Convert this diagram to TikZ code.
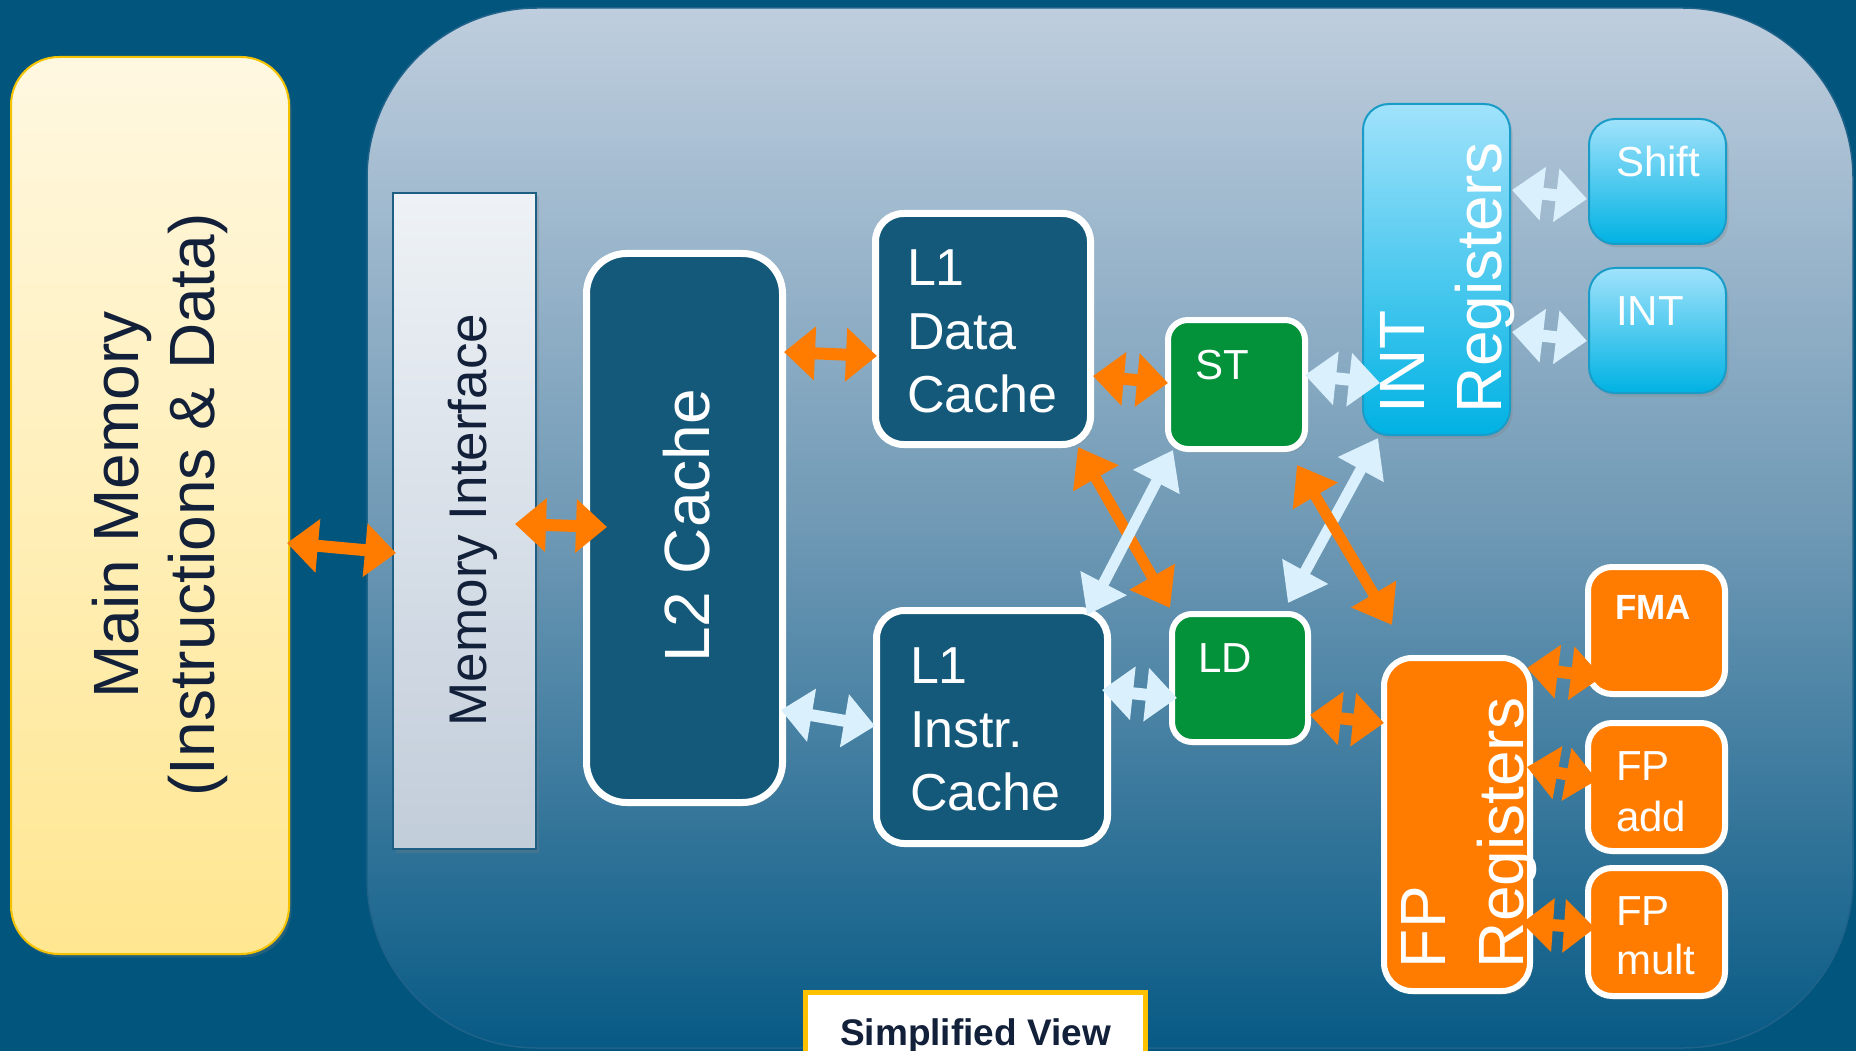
\documentclass[tikz,border=0pt]{standalone}
\usepackage{fontspec}
\setmainfont{Liberation Sans}
\usetikzlibrary{arrows.meta,shadows}
\definecolor{bgblue}{HTML}{02557C}
\definecolor{regtop}{HTML}{BFCEDE}
\definecolor{regmid}{HTML}{6F99B5}
\definecolor{regbot}{HTML}{075A85}
\definecolor{regedge}{HTML}{1F628A}
\definecolor{memtop}{HTML}{FFF8E1}
\definecolor{membot}{HTML}{FFE690}
\definecolor{memedge}{HTML}{F5C200}
\definecolor{iftop}{HTML}{EEF2F6}
\definecolor{ifbot}{HTML}{C2CDDA}
\definecolor{ifedge}{HTML}{1D5E82}
\definecolor{cachefill}{HTML}{14597A}
\definecolor{unitgreen}{HTML}{03913A}
\definecolor{intop}{HTML}{A0E2FB}
\definecolor{inbot}{HTML}{00B2E3}
\definecolor{inedge}{HTML}{1A9CC8}
\definecolor{fporange}{HTML}{FF7C00}
\definecolor{palearrow}{HTML}{DAF0FC}
\definecolor{navytext}{HTML}{13203A}
\definecolor{goldedge}{HTML}{FFC000}
\begin{document}
\begin{tikzpicture}[x=1pt,y=-1pt,
  txt/.style={inner sep=0pt,outer sep=0pt},
  wtxt/.style={txt,text=white},
  softshadow/.style={drop shadow={opacity=0.28,shadow xshift=2.5pt,shadow yshift=-3.5pt}},
  cachebox/.style={draw=white,line width=7pt,fill=cachefill,rounded corners=28pt,softshadow},
  greenbox/.style={draw=white,line width=6pt,fill=unitgreen,rounded corners=20pt,softshadow},
  orangebox/.style={draw=white,line width=6pt,fill=fporange,rounded corners=24pt,softshadow},
  bluebox/.style={draw=inedge,line width=2pt,top color=intop,bottom color=inbot,rounded corners=26pt,softshadow},
  oarr/.style={draw=fporange,line width=12pt,{Triangle[length=31pt,width=52pt]}-{Triangle[length=31pt,width=52pt]}},
  parr/.style={draw=palearrow,line width=12pt,{Triangle[length=31pt,width=52pt]}-{Triangle[length=31pt,width=52pt]}},
  odiag/.style={draw=fporange,line width=11pt,{Triangle[length=36pt,width=50pt]}-{Triangle[length=36pt,width=50pt]}},
  pdiag/.style={draw=palearrow,line width=11pt,{Triangle[length=36pt,width=50pt]}-{Triangle[length=36pt,width=50pt]}},
]
\useasboundingbox (0,0) rectangle (1856,1051);
\fill[bgblue] (0,0) rectangle (1856,1051);

% core region
\node[draw=regedge,line width=1.5pt,top color=regtop,bottom color=regbot,middle color=regmid,
      rounded corners=170pt,minimum width=1486pt,minimum height=1040pt] (core) at (1110,528) {};

% main memory
\node[draw=memedge,line width=2pt,top color=memtop,bottom color=membot,rounded corners=48pt,
      minimum width=278pt,minimum height=897pt,softshadow] (mainmem) at (150,505.5) {};
% memory interface
\node[draw=ifedge,line width=2pt,top color=iftop,bottom color=ifbot,
      minimum width=143pt,minimum height=656pt,softshadow] (memif) at (464.5,521) {};
% caches
\node[cachebox,rounded corners=40pt,minimum width=196pt,minimum height=549pt] (l2) at (684.5,528) {};
\node[cachebox,minimum width=215pt,minimum height=231pt] (l1d) at (983,329) {};
\node[cachebox,minimum width=231pt,minimum height=233pt] (l1i) at (992,727) {};
% load / store
\node[greenbox,minimum width=137pt,minimum height=129pt] (st) at (1236.5,384.5) {};
\node[greenbox,minimum width=136pt,minimum height=128pt] (ld) at (1240,678) {};
% integer side
\node[bluebox,minimum width=147pt,minimum height=331pt] (intreg) at (1436.5,269.5) {};
\node[bluebox,minimum width=137pt,minimum height=125pt] (shift) at (1657.5,181.5) {};
\node[bluebox,minimum width=137pt,minimum height=125pt] (int) at (1657.5,330.5) {};
% floating point side
\node[orangebox,rounded corners=28pt,minimum width=146pt,minimum height=333pt] (fpreg) at (1457,824.5) {};
\node[orangebox,minimum width=137pt,minimum height=127pt] (fma) at (1656.5,630.5) {};
\node[orangebox,minimum width=137pt,minimum height=128pt] (fpadd) at (1656.5,787) {};
\node[orangebox,minimum width=137pt,minimum height=128pt] (fpmult) at (1656.5,932) {};

% connectors
\draw[oarr] ([shift={(-3,487)}]mainmem.north east) -- ([shift={(4,361)}]memif.north west);
\draw[oarr] ([shift={(-22,332)}]memif.north east) -- ([shift={(24,277)}]l2.north west);
\draw[oarr] ([shift={(-2,102)}]l2.north east) -- ([shift={(5,146)}]l1d.north west);
\draw[parr] ([shift={(-5,460)}]l2.north east) -- ([shift={(2,119)}]l1i.north west);
\draw[oarr] ([shift={(-1,166)}]l1d.north east) -- ([shift={(3,66)}]st.north west);
\draw[parr] ([shift={(-3,58)}]st.north east) -- ([shift={(18,280)}]intreg.north west);
\draw[parr] ([shift={(1,87)}]intreg.north east) -- ([shift={(-1,81)}]shift.north west);
\draw[parr] ([shift={(1,229)}]intreg.north east) -- ([shift={(-1,74)}]int.north west);
\draw[parr] ([shift={(-9,83)}]l1i.north east) -- ([shift={(8,87)}]ld.north west);
\draw[oarr] ([shift={(-1,104)}]ld.north east) -- ([shift={(3,68)}]fpreg.north west);
\draw[oarr] ([shift={(-6,13)}]fpreg.north east) -- ([shift={(17,113)}]fma.north west);
\draw[oarr] ([shift={(-6,112)}]fpreg.north east) -- ([shift={(12,60)}]fpadd.north west);
\draw[oarr] ([shift={(-11,268)}]fpreg.north east) -- ([shift={(10,63)}]fpmult.north west);
\draw[odiag] ([shift={(-16,-1)}]l1d.south east) -- ([shift={(1,-3)}]ld.north west);
\draw[pdiag] ([shift={(8,-2)}]st.south west) -- ([shift={(-24,8)}]l1i.north east);
\draw[pdiag] ([shift={(16,2)}]intreg.south west) -- ([shift={(-23,-8)}]ld.north east);
\draw[odiag] ([shift={(-11,13)}]st.south east) -- ([shift={(11,-30)}]fpreg.north west);

% texts
\node[txt,text=navytext,rotate=90,align=center,font=\fontsize{64}{76}\selectfont] (mainmemT) at (160,505) {Main Memory\\(Instructions \& Data)};
\node[txt,text=navytext,rotate=90,font=\fontsize{53}{60}\selectfont] (memifT) at (473,520) {Memory Interface};
\node[wtxt,rotate=90,font=\fontsize{64}{70}\selectfont] (l2T) at (686.5,526) {L2 Cache};
\node[wtxt,align=left,anchor=north west,font=\fontsize{52}{63.5}\selectfont] (l1dT) at ([shift={(35,39.8)}]l1d.north west) {L1\\Data\\Cache};
\node[wtxt,align=left,anchor=north west,font=\fontsize{52}{63.5}\selectfont] (l1iT) at ([shift={(37,40.8)}]l1i.north west) {L1\\Instr.\\Cache};
\node[wtxt,anchor=base west,font=\fontsize{42}{48}\selectfont] (stT) at ([shift={(30,62)}]st.north west) {ST};
\node[wtxt,anchor=base west,font=\fontsize{42}{48}\selectfont] (ldT) at ([shift={(29,61)}]ld.north west) {LD};
\node[wtxt,rotate=90,align=left,anchor=south west,font=\fontsize{64}{77}\selectfont] (intregT) at (1514.5,413) {INT\\Registers};
\node[wtxt,anchor=base west,font=\fontsize{42}{48}\selectfont] (shiftT) at ([shift={(28,59)}]shift.north west) {Shift};
\node[wtxt,anchor=base west,font=\fontsize{42}{48}\selectfont] (intT) at ([shift={(28,58)}]int.north west) {INT};
\node[wtxt,rotate=90,align=left,anchor=south west,font=\fontsize{64}{78}\selectfont] (fpregT) at (1536.5,968) {FP\\Registers};
\node[wtxt,anchor=base west,font=\bfseries\fontsize{35}{40}\selectfont] (fmaT) at ([shift={(30,55)}]fma.north west) {FMA};
\node[wtxt,align=left,anchor=north west,font=\fontsize{42}{51}\selectfont] (fpaddT) at ([shift={(31,32)}]fpadd.north west) {FP\\add};
\node[wtxt,align=left,anchor=north west,font=\fontsize{42}{49}\selectfont] (fpmultT) at ([shift={(31,32)}]fpmult.north west) {FP\\mult};

% caption box
\node[draw=goldedge,line width=5pt,fill=white,minimum width=340pt,minimum height=85pt] (caption) at (975.5,1035) {};
\node[txt,text=navytext,anchor=base,font=\bfseries\fontsize{37}{42}\selectfont] (captionT) at (975.5,1045) {Simplified View};
\end{tikzpicture}
\end{document}
